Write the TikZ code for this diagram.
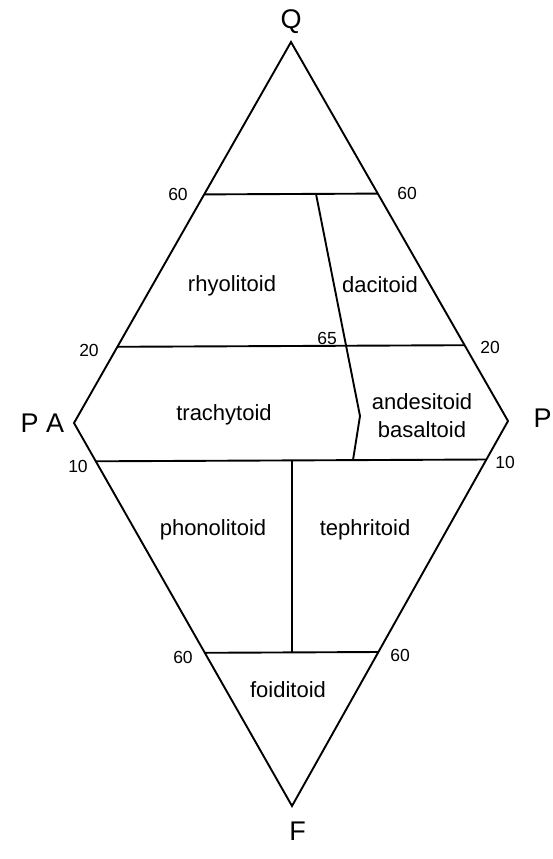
\documentclass[tikz,border=0pt]{standalone}
\usepackage{fontspec}
\setmainfont{Liberation Sans}
\usetikzlibrary{calc}
\begin{document}
\begin{tikzpicture}[x=1pt,y=-1pt,
  field/.style={font=\fontsize{22}{28}\selectfont, align=center, inner sep=0pt},
  num/.style={font=\fontsize{17.5}{20}\selectfont, inner sep=0pt},
  apex/.style={font=\fontsize{27}{30}\selectfont, inner sep=0pt},
  edge/.style={line width=1.9pt, line join=miter, line cap=butt}]
\useasboundingbox (0,0) rectangle (552,859);
% vertices
\coordinate (Q) at (291,42);
\coordinate (A) at (74,423);
\coordinate (P) at (508,421);
\coordinate (F) at (292,806);
% boundary points
\coordinate (qa60) at ($(Q)!0.4!(A)$);
\coordinate (qp60) at ($(Q)!0.4!(P)$);
\coordinate (qa20) at ($(Q)!0.8!(A)$);
\coordinate (qp20) at ($(Q)!0.8!(P)$);
\coordinate (fa10) at ($(A)!0.1!(F)$);
\coordinate (fp10) at ($(P)!0.1!(F)$);
\coordinate (fa60) at ($(A)!0.6!(F)$);
\coordinate (fp60) at ($(P)!0.6!(F)$);
% divider points
\coordinate (d1) at (316,193.9);
\coordinate (d2) at (360,416);
\coordinate (d3) at (353,460.1);
\coordinate (v1) at (292,460.4);
\coordinate (v2) at (292,652.4);
% outline
\draw[edge] (Q) -- (P) -- (F) -- (A) -- cycle;
% horizontal lines
\draw[edge] (qa60) -- (qp60);
\draw[edge] (qa20) -- (qp20);
\draw[edge] (fa10) -- (fp10);
\draw[edge] (fa60) -- (fp60);
% dividers
\draw[edge] (d1) -- (d2) -- (d3);
\draw[edge] (v1) -- (v2);
% apex labels
\node[apex] (lQ) at (291,22) {Q};
\node[apex] (lA) at (42.5,423) {P A};
\node[apex] (lP) at (542.5,418) {P};
\node[apex] (lF) at (297.5,831.5) {F};
% numbers
\node[num] (n60a) at (178,194) {60};
\node[num] (n60b) at (407,193) {60};
\node[num] (n20a) at (89,350) {20};
\node[num] (n20b) at (490,347) {20};
\node[num] (n65) at (327,338) {65};
\node[num] (n10a) at (78,466) {10};
\node[num] (n10b) at (505,462) {10};
\node[num] (n60c) at (183,657) {60};
\node[num] (n60d) at (400,655) {60};
% fields
\node[field] (rhy) at (232,286) {rhyolitoid};
\node[field] (dac) at (380,285) {dacitoid};
\node[field] (tra) at (224,415) {trachytoid};
\node[field] (and) at (422,416) {andesitoid\\basaltoid};
\node[field] (pho) at (213,530) {phonolitoid};
\node[field] (tep) at (365,530) {tephritoid};
\node[field] (foi) at (288,690) {foiditoid};
\end{tikzpicture}
\end{document}
